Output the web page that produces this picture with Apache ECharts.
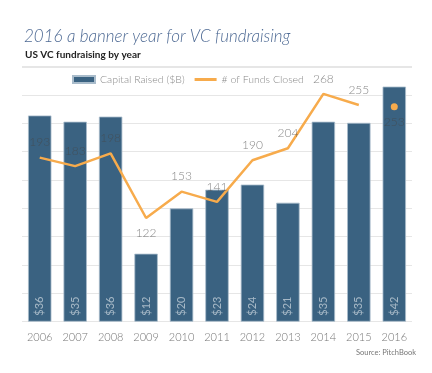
<!DOCTYPE html>
<html>
<head>
<meta charset="utf-8">
<script src="https://cdn.jsdelivr.net/npm/echarts@6/dist/echarts.min.js"></script>
<style>html,body{margin:0;padding:0;background:#fff}#c{width:432px;height:373px}</style>
</head>
<body>
<div id="c"></div>
<script>
const years = ['2006','2007','2008','2009','2010','2011','2012','2013','2014','2015','2016'];
const capital = [36.4, 35.3, 36.2, 12, 20, 23.3, 24.2, 21, 35.3, 35.1, 41.5];
const capitalLabels = ['$36','$35','$36','$12','$20','$23','$24','$21','$35','$35','$42'];
const funds = [193, 183, 198, 122, 153, 141, 190, 204, 268, 255, null];
const funds2016 = 253;
const belowLabels = [3];

const chart = echarts.init(document.getElementById('c'));
const lineData = funds.map((v, i) => belowLabels.includes(i)
  ? { value: v, label: { position: 'bottom' } } : v);
const dotData = years.map((y, i) => i === years.length - 1 ? funds2016 : null);

chart.setOption({
  animation: false,
  title: [
    { text: '2016 a banner year for VC fundraising', left: 19, top: 23,
      textStyle: { fontFamily: 'Lato', fontStyle: 'italic', fontWeight: 300, fontSize: 17, color: '#4e6a94' } },
    { text: 'US VC fundraising by year', left: 20, top: 45,
      textStyle: { fontFamily: 'Lato', fontWeight: 'bold', fontSize: 10, color: '#222' } }
  ],
  legend: {
    top: 74, left: 72, padding: 0, itemWidth: 22, itemHeight: 7, itemGap: 10,
    textStyle: { fontFamily: 'Lato', fontWeight: 300, fontSize: 10.5, color: '#888' },
    data: [{ name: 'Capital Raised ($B)', icon: 'rect' },
           { name: '# of Funds Closed', icon: 'path://M0,0L22,0L22,3L0,3Z', itemStyle: { color: '#f7ab4c' } }]
  },
  grid: { left: 22, right: 20, top: 66.7, bottom: 51.3 },
  xAxis: {
    type: 'category', data: years,
    axisLine: { show: false }, axisTick: { show: false },
    axisLabel: { fontFamily: 'Lato', fontWeight: 300, fontSize: 11, color: '#777', margin: 10 }
  },
  yAxis: [
    { type: 'value', min: 0, max: 45.01, interval: 5, axisLabel: { show: false },
      axisLine: { show: false }, axisTick: { show: false },
      splitLine: { show: true, lineStyle: { color: '#e6e6e6', width: 1 } } },
    { type: 'value', min: 0, max: 300, show: false, splitLine: { show: false } }
  ],
  series: [
    { name: 'Capital Raised ($B)', type: 'bar', data: capital, barCategoryGap: '34%', z: 2,
      itemStyle: { color: '#3a6281', borderColor: '#a9bccb', borderWidth: 0.8 },
      label: { show: true, position: 'insideBottom', rotate: 90, distance: 6,
        align: 'left', verticalAlign: 'middle',
        formatter: p => capitalLabels[p.dataIndex],
        fontFamily: 'Lato', fontSize: 11, color: 'rgba(255,255,255,0.55)' } },
    { name: '# of Funds Closed', type: 'line', yAxisIndex: 1, data: lineData, z: 5,
      symbol: 'circle', symbolSize: 0.1, showSymbol: true, connectNulls: false,
      lineStyle: { color: '#f7ab4c', width: 2.5 }, itemStyle: { color: '#f7ab4c' },
      labelLayout: { hideOverlap: false },
      label: { show: true, position: 'top', distance: 9,
        fontFamily: 'Lato', fontWeight: 300, fontSize: 12, color: 'rgba(70,70,70,0.65)' } },
    { name: 'dot', type: 'line', yAxisIndex: 1, data: dotData, z: 6,
      symbol: 'circle', symbolSize: 7, showSymbol: true,
      lineStyle: { width: 0 }, itemStyle: { color: '#f7ab4c' },
      label: { show: true, position: 'bottom', distance: 6,
        fontFamily: 'Lato', fontWeight: 300, fontSize: 12, color: 'rgba(70,70,70,0.65)' } }
  ],
  graphic: [
    { type: 'text', right: 16, top: 349,
      style: { text: 'Source: PitchBook', font: '7.5px Lato', fill: '#777' } }
  ]
});
</script>
</body>
</html>
